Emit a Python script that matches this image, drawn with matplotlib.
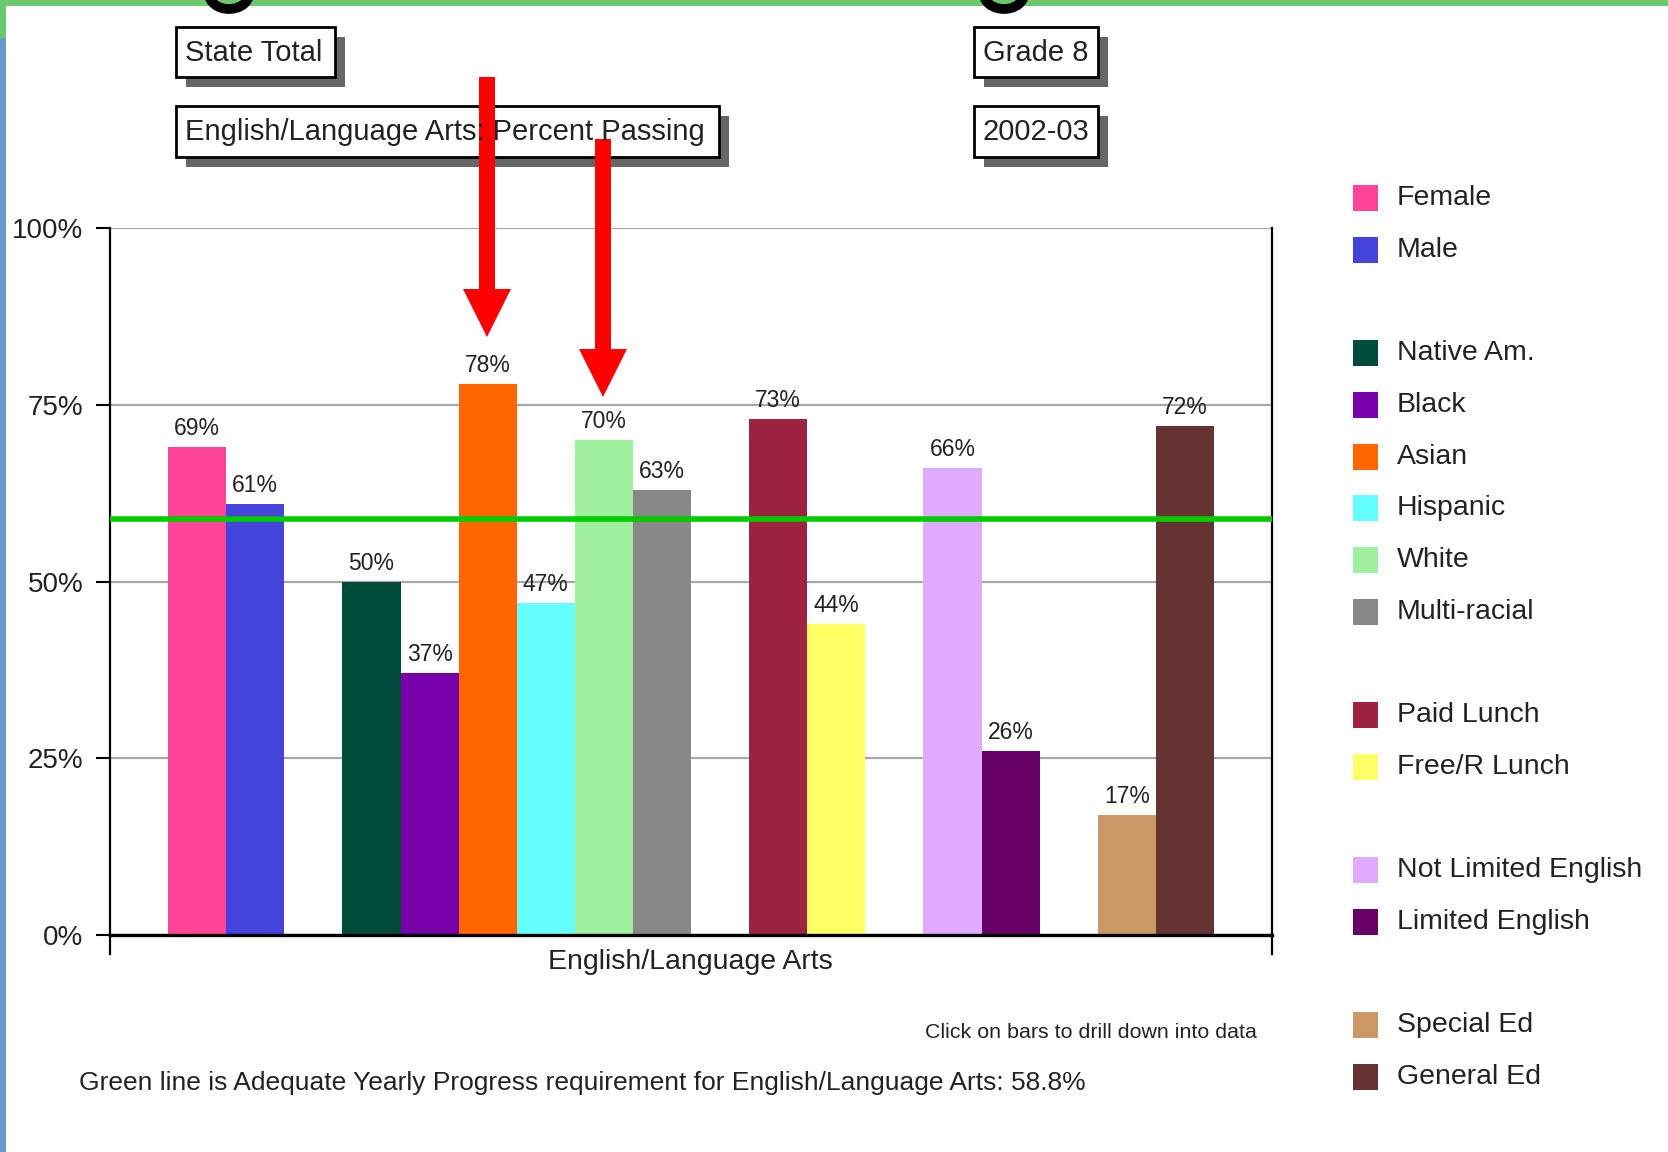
import matplotlib.pyplot as plt
from matplotlib.patches import Rectangle, FancyArrow, Arc

plt.rcParams['font.family'] = ['Liberation Sans', 'DejaVu Sans']

# Percent passing, grade 8 English/Language Arts, 2002-03
categories = ["Female", "Male",
              "Native Am.", "Black", "Asian", "Hispanic", "White", "Multi-racial",
              "Paid Lunch", "Free/R Lunch",
              "Not Limited English", "Limited English",
              "Special Ed", "General Ed"]
percent = [69, 61, 50, 37, 78, 47, 70, 63, 73, 44, 66, 26, 17, 72]
group_sizes = [2, 6, 2, 2, 2]
colors = ["#ff4499", "#4444dd",
          "#004c3c", "#7700aa", "#ff6600", "#66ffff", "#a0f0a0", "#888888",
          "#9e2340", "#ffff66",
          "#e0aaff", "#660066",
          "#cc9966", "#663333"]
ayp_target = 58.8

W, H = 1668, 1152
fig = plt.figure(figsize=(W / 100, H / 100), dpi=100)

# bar slots: one empty slot before each group and at the end
xpos = []
rows = []
slot = 1
row = 0
for n in group_sizes:
    for i in range(n):
        xpos.append(slot + 0.5)
        rows.append(row)
        slot += 1
        row += 1
    slot += 1
    row += 1
nslots = slot

ax = fig.add_axes([110 / W, 1 - 935 / H, (1272 - 110) / W, (935 - 228) / H])
ax.bar(xpos, percent, width=1.0, color=colors, zorder=2)
for x, v in zip(xpos, percent):
    ax.annotate(f"{v}%", (x, v), xytext=(0, 5), textcoords="offset points",
                ha="center", va="bottom", fontsize=16.5, color="#222222", zorder=3)

ax.axhline(ayp_target, color="#00cc00", lw=4, zorder=4)

ax.set_xlim(0, nslots)
ax.set_ylim(0, 100)
ax.set_yticks([0, 25, 50, 75, 100])
ax.set_yticklabels(["0%", "25%", "50%", "75%", "100%"], fontsize=20, color="#222222")
ax.set_xticks([])
ax.tick_params(axis="y", length=10, width=1.5, pad=9, direction="out")
ax.yaxis.grid(True, color="#a8a8a8", lw=1.6)
ax.set_axisbelow(True)
ax.spines["top"].set_visible(False)
for s in ["left", "right"]:
    ax.spines[s].set_linewidth(1.6)
ax.spines["bottom"].set_linewidth(2.4)
# axis lines run a little past the baseline
for xe in (0, nslots):
    ax.plot([xe, xe], [0, -2.7], color="black", lw=1.6, clip_on=False)

fig.text(690 / W, 1 - 962 / H, "English/Language Arts", ha="center", va="center",
         fontsize=20.5, color="#222222")
fig.text(1257 / W, 1 - 1033 / H, "Click on bars to drill down into data",
         ha="right", va="center", fontsize=15.4, color="#222222")
fig.text(79 / W, 1 - 1083 / H,
         "Green line is Adequate Yearly Progress requirement for English/Language Arts: 58.8%",
         ha="left", va="center", fontsize=19, color="#222222")

# overlay in pixel coordinates for page decoration, header boxes, legend, arrows
ov = fig.add_axes([0, 0, 1, 1], zorder=5)
ov.set_xlim(0, W)
ov.set_ylim(H, 0)
ov.axis("off")
ov.patch.set_visible(False)

ov.add_patch(Rectangle((0, 0), W, 6, color="#6cc86c", lw=0))
ov.add_patch(Rectangle((0, 0), 6, 38, color="#6cc86c", lw=0))
ov.add_patch(Rectangle((0, 38), 6, H - 38, color="#6699cc", lw=0))
for cx in (229, 1004):
    ov.add_patch(Arc((cx, -6), 40, 30, theta1=0, theta2=180, color="black", lw=7))

boxes = [("State Total", 176, 27, 159, 50),
         ("English/Language Arts: Percent Passing", 176, 106, 543, 51),
         ("Grade 8", 974, 27, 124, 50),
         ("2002-03", 974, 106, 124, 51)]
for label, bx, by, bw, bh in boxes:
    ov.add_patch(Rectangle((bx + 10, by + 10), bw, bh, color="#666666", lw=0))
    ov.add_patch(Rectangle((bx, by), bw, bh, facecolor="white", edgecolor="black", lw=2))
    ov.text(bx + 9, by + bh / 2 + 1, label, ha="left", va="center",
            fontsize=21, color="#222222")

# legend, one blank row between groups
for name, c, r in zip(categories, colors, rows):
    y = 198 + 51.7 * r
    ov.add_patch(Rectangle((1353, y - 13), 25, 26, color=c, lw=0))
    ov.text(1397, y, name, ha="left", va="center", fontsize=20.5, color="#222222")

for ax_x, top, tip in ((487, 77, 337), (603, 139, 397)):
    ov.add_patch(FancyArrow(ax_x, top, 0, tip - top, width=16, head_width=48,
                            head_length=48, length_includes_head=True,
                            color="#ff0000", lw=0))

fig.savefig("out.png", dpi=100, facecolor="white")
